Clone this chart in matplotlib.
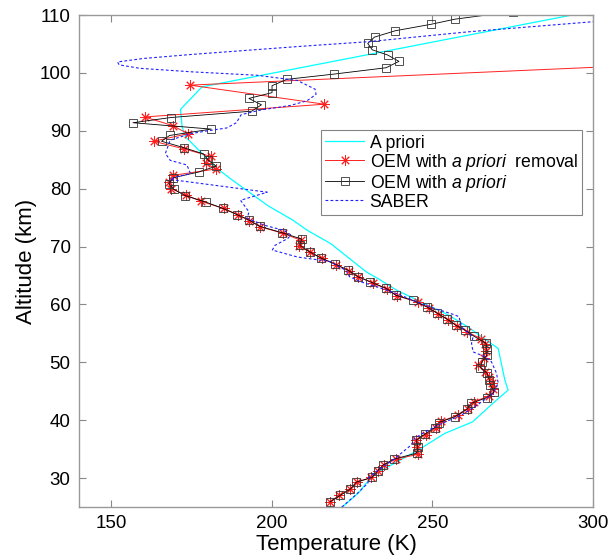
import matplotlib
matplotlib.use("Agg")
import matplotlib.pyplot as plt

plt.rcParams['font.family'] = ['Liberation Sans', 'DejaVu Sans']
plt.rcParams['mathtext.fontset'] = 'custom'
plt.rcParams['mathtext.rm'] = 'Liberation Sans'
plt.rcParams['mathtext.it'] = 'Liberation Sans:italic'

# ---------------- data ----------------
apriori_alt = [25.0, 27.6, 29.1, 30.8, 34.8, 37.7, 39.7, 40.6, 43.0, 45.2, 46.9, 49.5,
               52.4, 53.8, 56.1, 58.2, 60.4, 62.5, 64.5, 65.6, 70.5, 72.8, 74.6, 77.0,
               81.5, 83.5, 89.0, 90.7, 93.7, 97.6, 110.0, 111.0]
apriori_T = [222.0, 227.3, 229.4, 232.5, 245.5, 253.8, 262.5, 264.3, 269.0, 273.6, 272.6, 271.6,
             270.5, 266.9, 261.1, 254.9, 246.6, 238.8, 233.0, 229.5, 218.4, 211.1, 206.5, 199.0,
             187.7, 183.0, 173.1, 172.1, 171.6, 178.3, 293.4, 302.7]

removal_alt = [25.9, 27.0, 28.1, 29.3, 30.1, 31.3, 32.3, 33.3, 34.1, 35.3, 36.5, 37.5, 38.6,
               39.8, 40.9, 42.0, 43.2, 44.2, 45.4, 46.5, 47.5, 48.4, 49.6, 50.8, 52.0, 53.1,
               54.0, 55.3, 56.3, 57.3, 58.4, 59.4, 60.4, 61.5, 62.6, 63.7, 64.8, 65.8, 66.9,
               68.0, 69.0, 70.1, 71.1, 72.3, 73.4, 74.5, 75.5, 76.6, 77.8, 78.9, 80.0, 81.1,
               82.3, 83.4, 84.5, 85.6, 86.9, 88.2, 89.5, 90.9, 92.4, 94.6, 97.9, 101.7]
removal_T = [218.0, 221.0, 224.4, 226.5, 231.0, 233.2, 235.0, 238.8, 245.5, 245.3, 245.0, 248.0, 251.0,
             252.8, 258.0, 261.0, 263.0, 267.7, 268.8, 268.5, 267.5, 266.5, 264.3, 266.0, 266.8, 266.5,
             265.3, 260.8, 257.8, 255.0, 251.8, 249.0, 245.5, 239.0, 236.0, 231.5, 227.0, 224.2, 220.0,
             215.5, 212.0, 208.6, 209.0, 203.5, 196.5, 193.0, 189.5, 185.0, 178.1, 173.3, 168.75, 167.9,
             169.2, 182.5, 179.4, 181.0, 172.6, 163.2, 173.9, 169.2, 160.4, 216.4, 174.5, 330.0]

oem_alt = [25.9, 27.0, 28.1, 29.3, 30.1, 31.3, 32.3, 33.3, 34.3, 35.4, 36.6, 37.6, 38.7, 39.6,
           40.6, 41.9, 42.9, 43.9, 44.9, 46.1, 47.0, 48.1, 49.1, 50.1, 51.3, 52.3, 53.3, 54.5,
           55.6, 56.4, 57.5, 58.5, 59.6, 60.7, 61.6, 62.8, 63.9, 64.8, 65.9, 67.0, 68.0, 69.1,
           70.2, 71.3, 72.4, 73.5, 74.6, 75.5, 76.6, 77.7, 78.8, 79.9, 80.9, 81.9, 82.9, 83.9,
           85.0, 86.0, 87.1, 88.2, 89.2, 90.3, 91.4, 92.3, 93.4, 94.5, 95.6, 96.6, 97.8, 98.9,
           99.8, 100.9, 102.0, 103.1, 104.0, 105.1, 106.2, 107.3, 108.4, 109.3, 110.6]
oem_T = [218.2, 221.3, 224.5, 226.3, 231.2, 233.0, 234.8, 238.2, 245.1, 245.5, 245.0, 247.7, 250.7, 252.0,
         257.0, 260.8, 262.0, 267.0, 269.3, 268.1, 267.7, 267.1, 265.0, 265.5, 267.0, 267.0, 266.7, 263.0,
         260.1, 257.3, 254.5, 251.5, 248.2, 244.0, 238.6, 235.6, 230.7, 226.8, 223.8, 219.6, 215.4, 211.8,
         208.8, 209.3, 203.2, 196.3, 192.9, 189.3, 184.8, 179.4, 173.1, 169.5, 168.0, 169.3, 177.4, 182.7,
         180.1, 178.8, 172.6, 165.7, 168.2, 181.2, 156.8, 168.6, 193.8, 196.8, 192.9, 200.1, 200.1, 204.7,
         219.3, 235.6, 239.6, 236.1, 231.3, 229.9, 232.0, 238.5, 249.5, 257.1, 275.0]

saber_alt = [25.0, 27.0, 29.1, 30.2, 31.5, 33.1, 35.7, 36.9, 38.2, 39.4, 40.9, 42.3, 44.6, 46.4,
             48.1, 50.1, 51.0, 51.8, 53.3, 54.4, 56.1, 57.9, 58.4, 59.3, 60.4, 61.9, 63.0, 63.9,
             64.8, 65.9, 66.8, 67.4, 68.2, 69.4, 70.2, 71.4, 72.0, 72.8, 73.7, 74.9, 76.0, 78.0,
             79.4, 81.6, 82.0, 82.6, 84.1, 84.9, 86.1, 88.4, 89.5, 90.0, 90.5, 91.4, 92.8, 93.6,
             94.4, 95.2, 96.3, 97.2, 98.7, 99.6, 100.2, 100.8, 101.4, 101.9, 102.5, 103.2, 104.6,
             105.4, 107.1, 108.9]
saber_T = [221.8, 226.0, 229.9, 230.4, 233.5, 237.7, 243.4, 244.5, 248.5, 252.8, 259.1, 263.2, 268.9, 270.5,
           270.0, 268.4, 266.3, 262.7, 262.2, 262.7, 259.1, 258.3, 255.9, 250.7, 245.5, 238.8, 233.0, 227.8,
           224.2, 223.1, 220.0, 218.4, 208.0, 200.2, 201.0, 205.0, 206.0, 203.8, 197.6, 192.4, 192.9, 190.3,
           198.6, 168.4, 170.0, 174.7, 173.6, 168.4, 166.9, 168.4, 174.7, 180.0, 186.0, 189.0, 190.5, 196.6,
           205.9, 211.0, 213.8, 213.5, 208.0, 195.5, 175.0, 159.0, 152.5, 152.0, 160.0, 175.0, 209.0,
           230.0, 261.0, 301.0]

x_ticks = [150, 200, 250, 300]
y_ticks = [30, 40, 50, 60, 70, 80, 90, 100, 110]

# ---------------- figure ----------------
fig = plt.figure(figsize=(6.10, 5.59), dpi=100)
ax = fig.add_axes([0.1295, 0.093, 0.8425, 0.880])

ax.plot(apriori_T, apriori_alt, color='#00ffff', lw=0.9, label='A priori')
ax.plot(removal_T, removal_alt, color='#ff2020', lw=0.7, marker=(8, 2, 0), ms=7.5,
        mew=0.7, label=r'OEM with $\it{a\ priori}$  removal')
ax.plot(oem_T, oem_alt, color='black', lw=0.6, marker='s', ms=5.5, mfc='none',
        mec='#333333', mew=0.6, label=r'OEM with $\it{a\ priori}$')
ax.plot(saber_T, saber_alt, color='#2020ff', lw=0.8, ls=(0, (2.5, 2)), label='SABER')

ax.set_xlim(140, 300)
ax.set_ylim(25, 110)
ax.set_xticks(x_ticks)
ax.set_yticks(y_ticks)
ax.tick_params(direction='in', top=True, right=True, labelsize=13.5, length=5,
               color='#888888', width=0.8, pad=6)
for s in ax.spines.values():
    s.set_color('#999999')
    s.set_linewidth(1.0)

ax.set_xlabel('Temperature (K)', fontsize=16, labelpad=1)
ax.set_ylabel('Altitude (km)', fontsize=16, labelpad=2)

leg = ax.legend(loc='upper left', bbox_to_anchor=(0.471, 0.766), fontsize=12.7,
                frameon=True, fancybox=False, borderpad=0.25, labelspacing=0.0,
                handlelength=2.2, handletextpad=0.3, borderaxespad=0)
leg.get_frame().set_edgecolor('#666666')
leg.get_frame().set_linewidth(0.8)

fig.savefig('out.png', dpi=100)
